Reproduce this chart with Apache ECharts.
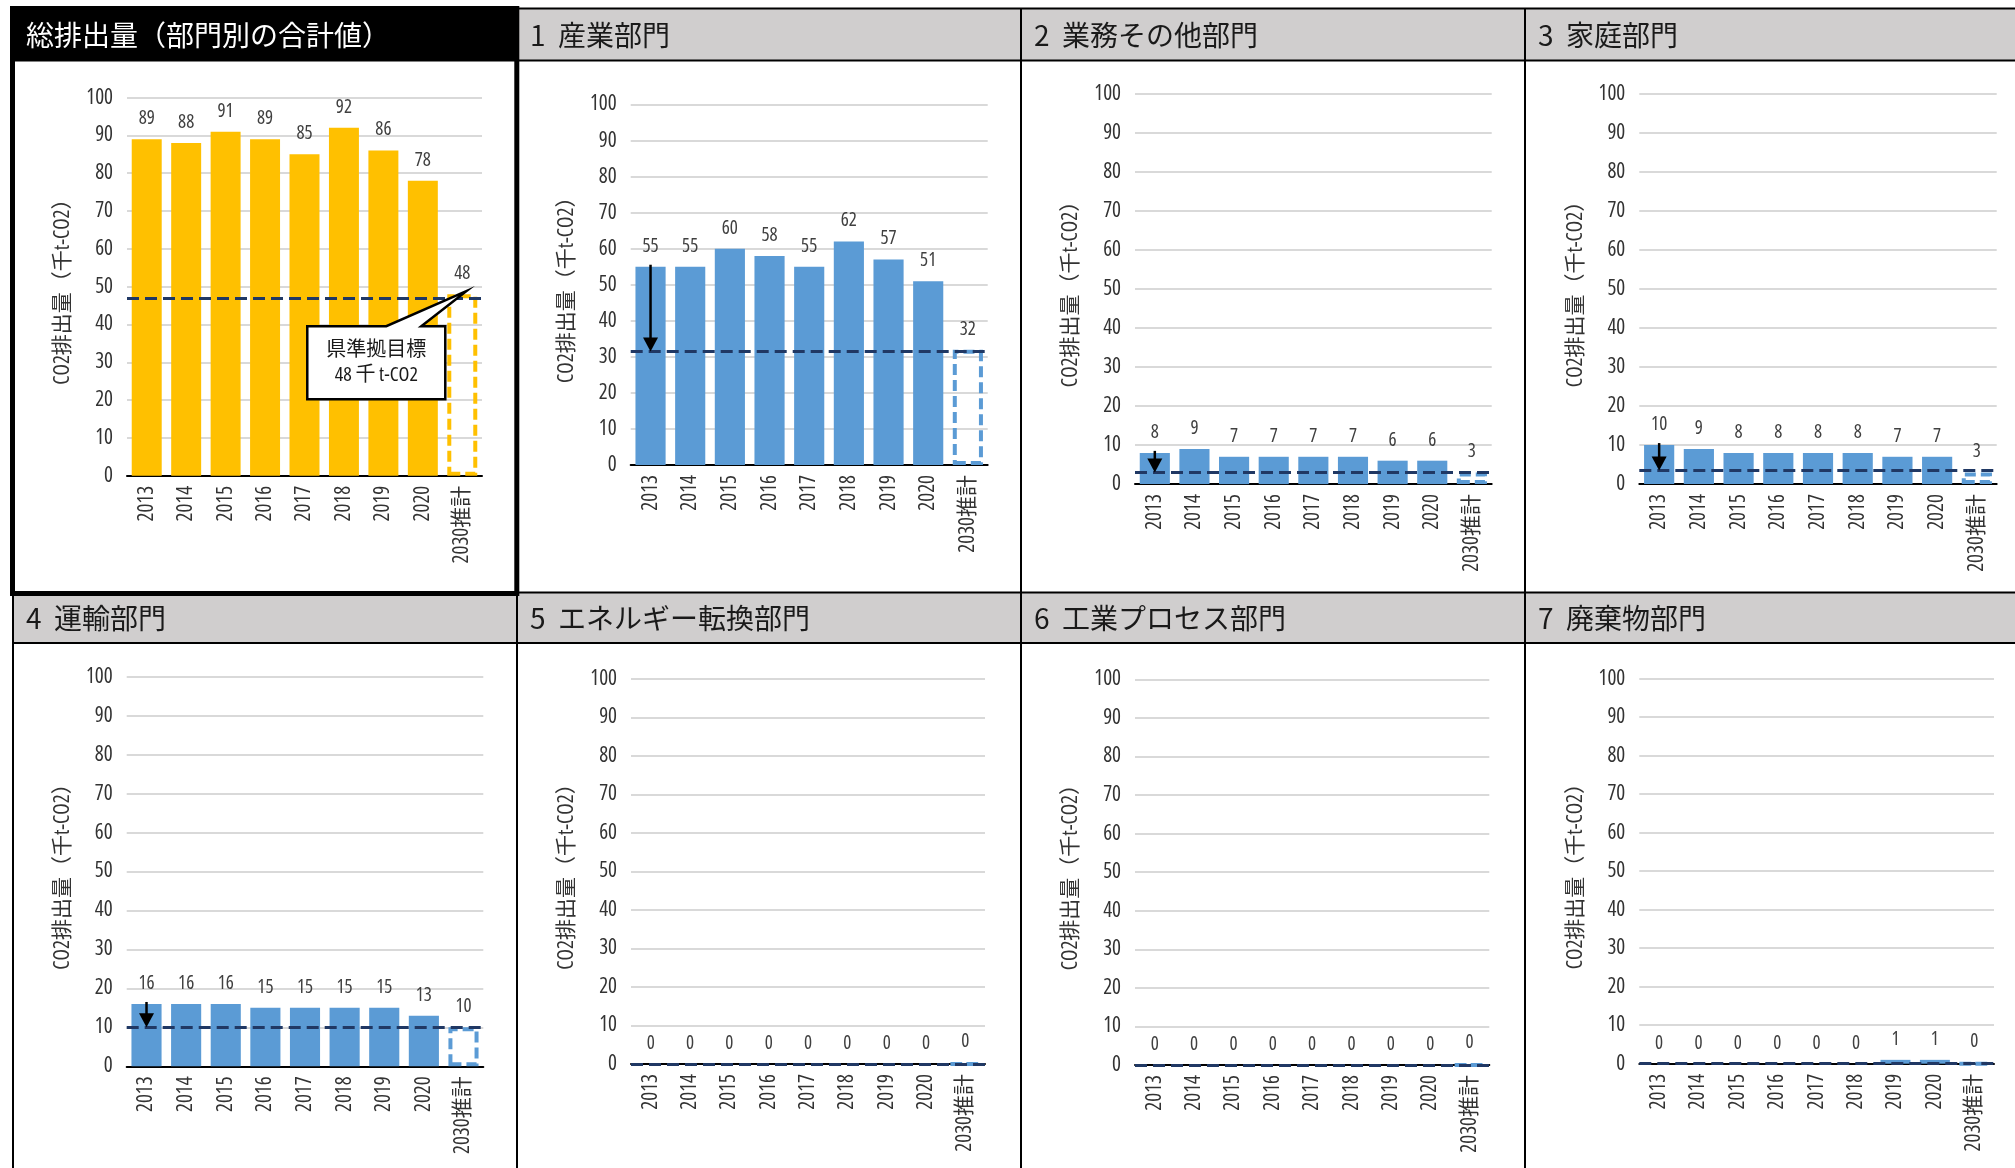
<!DOCTYPE html>
<html>
<head>
<meta charset="utf-8">
<script src="https://cdn.jsdelivr.net/npm/echarts@6/dist/echarts.min.js"></script>
<style>
  html, body { margin: 0; padding: 0; background: #fff; }
  #c { width: 2015px; height: 1168px; }
</style>
</head>
<body>
<div id="c"></div>
<script>
// ---- data ----
const years = ['2013', '2014', '2015', '2016', '2017', '2018', '2019', '2020', '2030推計'];
const totalValues = [89, 88, 91, 89, 85, 92, 86, 78, 48];
const industryValues = [55, 55, 60, 58, 55, 62, 57, 51, 32];
const commercialValues = [8, 9, 7, 7, 7, 7, 6, 6, 3];
const householdValues = [10, 9, 8, 8, 8, 8, 7, 7, 3];
const transportValues = [16, 16, 16, 15, 15, 15, 15, 13, 10];
const energyConversionValues = [0, 0, 0, 0, 0, 0, 0, 0, 0];
const industrialProcessValues = [0, 0, 0, 0, 0, 0, 0, 0, 0];
const wasteValues = [0, 0, 0, 0, 0, 0, 1, 1, 0];
// target level (dashed line) for each panel
const targetLines = [47, 31.5, 3, 3.5, 10, 0, 0, 0];
const panelTitles = [
  '総排出量（部門別の合計値）',
  '1  産業部門',
  '2  業務その他部門',
  '3  家庭部門',
  '4  運輸部門',
  '5  エネルギー転換部門',
  '6  工業プロセス部門',
  '7  廃棄物部門'
];
const yAxisName = 'CO2排出量（千t-CO2）';
const yMin = 0, yMax = 100, yStep = 10;
const calloutLines = ['県準拠目標', '48 千 t-CO2'];

const panelValues = [totalValues, industryValues, commercialValues, householdValues,
  transportValues, energyConversionValues, industrialProcessValues, wasteValues];

// ---- layout ----
const YELLOW = '#FFC000', BLUE = '#5B9BD5', NAVY = '#203864';
const panelColors = [YELLOW, BLUE, BLUE, BLUE, BLUE, BLUE, BLUE, BLUE];
const NUM_FONT = "'Open Sans', 'Noto Sans CJK JP', sans-serif";
const NARROW = 'condensed';
const JP_FONT = "'Noto Sans CJK JP', sans-serif";
// plot rectangles: left, top, right, bottom
const plotRects = [
  [127, 97.6, 482, 475.7],
  [630.7, 104.5, 987.7, 465],
  [1135, 93.8, 1491.7, 484.1],
  [1639.3, 93.8, 1996.7, 484.1],
  [126.7, 676.7, 483.3, 1066.3],
  [631, 679, 985, 1064],
  [1135, 679.3, 1489.3, 1065],
  [1639.3, 678.6, 1994, 1063.7]
];
const colX = [13, 517, 1021, 1525, 2016];
const rowTop = [8.5, 592.5];
const rowHeaderBottom = [60.5, 643];

const chart = echarts.init(document.getElementById('c'), null, { renderer: 'canvas', width: 2015, height: 1168 });

const grids = [], xAxes = [], yAxes = [], series = [];
plotRects.forEach(([l, t, r, b], i) => {
  grids.push({ left: l, top: t, width: r - l, height: b - t });
  xAxes.push({
    type: 'category', gridIndex: i, data: years,
    axisLine: { lineStyle: { color: '#000', width: 2 } },
    axisTick: { show: false },
    axisLabel: { rotate: 90, fontSize: 21, color: '#333', margin: 10, fontFamily: NUM_FONT, fontStyle: NARROW }
  });
  yAxes.push({
    type: 'value', gridIndex: i, min: yMin, max: yMax, interval: yStep,
    name: yAxisName, nameLocation: 'middle', nameGap: 53, nameRotate: 90,
    nameTextStyle: { fontSize: 21, color: '#333', fontFamily: NUM_FONT, fontStyle: NARROW },
    axisLine: { show: false }, axisTick: { show: false },
    axisLabel: { fontSize: 21, color: '#333', margin: 14, fontFamily: NUM_FONT, fontStyle: NARROW },
    splitLine: { lineStyle: { color: '#D9D9D9', width: 2 } }
  });
  const color = panelColors[i];
  const values = panelValues[i];
  series.push({
    type: 'bar', xAxisIndex: i, yAxisIndex: i,
    barCategoryGap: '24%',
    itemStyle: { color: color },
    data: values.map((v, k) => k === years.length - 1
      ? { value: v, itemStyle: { color: 'rgba(255,255,255,0)', borderColor: color, borderWidth: 4, borderType: [11, 5] } }
      : v),
    label: { show: true, position: 'top', distance: 11, fontSize: 19, color: '#404040', fontFamily: NUM_FONT, fontStyle: NARROW },
    markLine: {
      silent: true, symbol: ['none', 'none'], label: { show: false },
      lineStyle: { color: NAVY, width: 3, type: [12, 6] },
      data: [{ yAxis: targetLines[i] }]
    }
  });
});

chart.setOption({
  animation: false,
  backgroundColor: '#fff',
  grid: grids, xAxis: xAxes, yAxis: yAxes, series: series
});

// ---- frames, headers, arrows, callout ----
const g = [];
for (let r = 0; r < 2; r++) {
  for (let c = 0; c < 4; c++) {
    const idx = r * 4 + c;
    g.push({
      type: 'rect', silent: true, z: -10,
      shape: { x: colX[c], y: rowTop[r], width: colX[c + 1] - colX[c], height: rowHeaderBottom[r] - rowTop[r] },
      style: { fill: idx === 0 ? '#000' : '#D0CECE' }
    });
  }
}
// ruling of the panel table
[rowTop[0], rowHeaderBottom[0], rowTop[1], rowHeaderBottom[1]].forEach(y => {
  g.push({ type: 'line', silent: true, shape: { x1: colX[0] - 1, y1: y, x2: 2016, y2: y }, style: { stroke: '#000', lineWidth: 2 } });
});
colX.slice(0, 4).forEach(x => {
  g.push({ type: 'line', silent: true, shape: { x1: x, y1: rowTop[0], x2: x, y2: 1170 }, style: { stroke: '#000', lineWidth: 2 } });
});
// heavy frame around the total panel
g.push({
  type: 'rect', silent: true,
  shape: { x: 12.5, y: 8.5, width: 504.3, height: 585 },
  style: { fill: null, stroke: '#000', lineWidth: 5 }
});
// header titles
panelTitles.forEach((t, i) => {
  const r = Math.floor(i / 4), c = i % 4;
  g.push({
    type: 'text', silent: true,
    x: colX[c] + 13, y: (rowTop[r] + rowHeaderBottom[r]) / 2 + 1,
    style: {
      text: t, fontSize: 28, fontFamily: JP_FONT,
      fill: i === 0 ? '#fff' : '#1a1a1a', verticalAlign: 'middle', align: 'left'
    }
  });
});
// arrows from the 2013 level down to the target line (sector panels)
for (let i = 1; i <= 4; i++) {
  const p1 = chart.convertToPixel({ gridIndex: i }, [years[0], panelValues[i][0]]);
  const p2 = chart.convertToPixel({ gridIndex: i }, [years[0], targetLines[i]]);
  const head = 14;
  g.push({ type: 'line', silent: true, z: 150, shape: { x1: p1[0], y1: p1[1] - 2, x2: p1[0], y2: p2[1] - head + 2 }, style: { stroke: '#000', lineWidth: 2.5 } });
  g.push({ type: 'polygon', silent: true, z: 150, shape: { points: [[p1[0] - 7.5, p2[1] - head], [p1[0] + 7.5, p2[1] - head], [p1[0], p2[1]]] }, style: { fill: '#000' } });
}
// callout pointing at the 2030 total
(function () {
  const a = chart.convertToPixel({ gridIndex: 0 }, [years[8], totalValues[8]]);
  const ax = a[0], ay = a[1];
  const x0 = ax - 155, x1 = ax - 17, y0 = ay + 32, y1 = ay + 105;
  g.push({
    type: 'polygon', silent: true, z: 200,
    shape: { points: [[x0, y0], [ax - 76, y0], [ax + 4, ay - 3], [ax - 41, y0], [x1, y0], [x1, y1], [x0, y1]] },
    style: { fill: '#fff', stroke: '#000', lineWidth: 2.5, lineJoin: 'miter' }
  });
  calloutLines.forEach((t, k) => {
    g.push({
      type: 'text', silent: true, z: 201,
      x: (x0 + x1) / 2, y: ay + 56 + k * 25,
      style: { text: t, fontSize: 20, fontFamily: NUM_FONT, fontStyle: NARROW, fill: '#1a1a1a', align: 'center', verticalAlign: 'middle' }
    });
  });
})();

chart.setOption({ graphic: g });
</script>
</body>
</html>
